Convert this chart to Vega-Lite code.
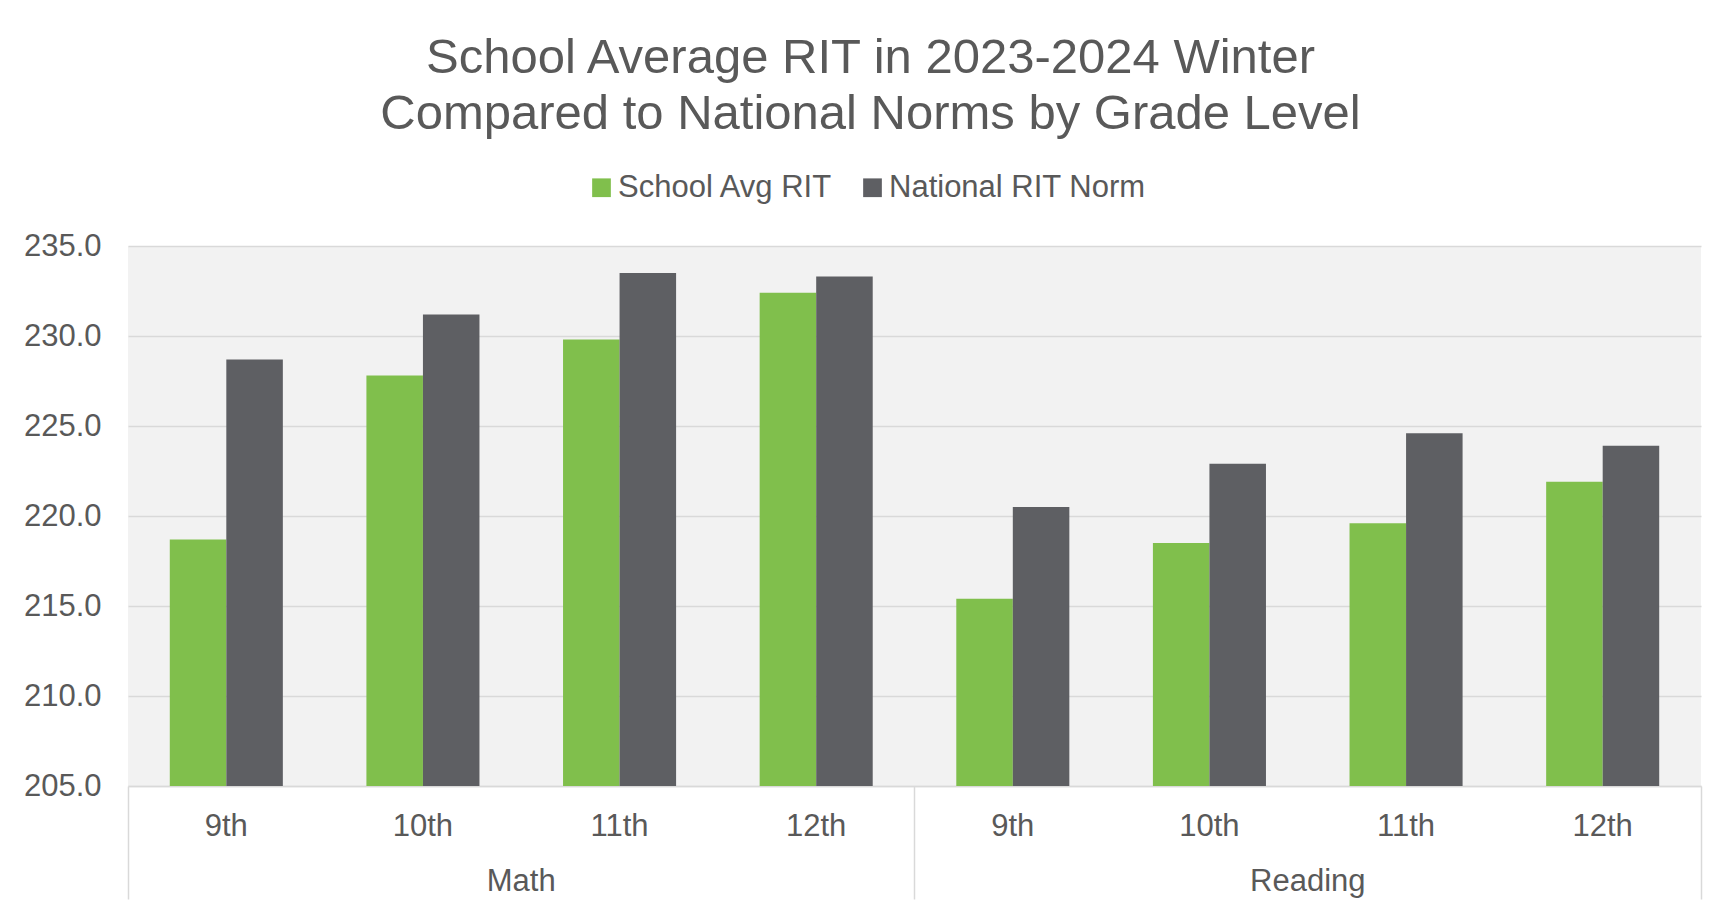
{
  "$schema": "https://vega.github.io/schema/vega-lite/v6.json",
  "width": 1573,
  "height": 540,
  "autosize": {"type": "none"},
  "padding": {"left": 128, "top": 246, "right": 12, "bottom": 123},
  "background": "white",
  "title": {
    "text": ["School Average RIT in 2023-2024 Winter", "Compared to National Norms by Grade Level"],
    "font": "Liberation Sans",
    "fontSize": 49,
    "fontWeight": "normal",
    "color": "#595959",
    "lineHeight": 56,
    "anchor": "middle",
    "frame": "group",
    "dx": -44,
    "offset": 33
  },
  "config": {
    "view": {"stroke": null, "fill": "#f2f2f2"},
    "font": "Liberation Sans"
  },
  "data": {
    "values": [
      {"cat": "Math 9th", "subject": "Math", "series": "School Avg RIT", "value": 218.7},
      {"cat": "Math 9th", "subject": "Math", "series": "National RIT Norm", "value": 228.7},
      {"cat": "Math 10th", "subject": "Math", "series": "School Avg RIT", "value": 227.8},
      {"cat": "Math 10th", "subject": "Math", "series": "National RIT Norm", "value": 231.2},
      {"cat": "Math 11th", "subject": "Math", "series": "School Avg RIT", "value": 229.8},
      {"cat": "Math 11th", "subject": "Math", "series": "National RIT Norm", "value": 233.5},
      {"cat": "Math 12th", "subject": "Math", "series": "School Avg RIT", "value": 232.4},
      {"cat": "Math 12th", "subject": "Math", "series": "National RIT Norm", "value": 233.3},
      {"cat": "Reading 9th", "subject": "Reading", "series": "School Avg RIT", "value": 215.4},
      {"cat": "Reading 9th", "subject": "Reading", "series": "National RIT Norm", "value": 220.5},
      {"cat": "Reading 10th", "subject": "Reading", "series": "School Avg RIT", "value": 218.5},
      {"cat": "Reading 10th", "subject": "Reading", "series": "National RIT Norm", "value": 222.9},
      {"cat": "Reading 11th", "subject": "Reading", "series": "School Avg RIT", "value": 219.6},
      {"cat": "Reading 11th", "subject": "Reading", "series": "National RIT Norm", "value": 224.6},
      {"cat": "Reading 12th", "subject": "Reading", "series": "School Avg RIT", "value": 221.9},
      {"cat": "Reading 12th", "subject": "Reading", "series": "National RIT Norm", "value": 223.9}
    ]
  },
  "layer": [
    {
      "mark": {"type": "bar", "clip": true},
      "encoding": {
        "x": {
          "field": "cat",
          "type": "nominal",
          "sort": ["Math 9th", "Math 10th", "Math 11th", "Math 12th", "Reading 9th", "Reading 10th", "Reading 11th", "Reading 12th"],
          "scale": {"paddingInner": 0.425, "paddingOuter": 0.2125},
          "axis": {
            "orient": "bottom",
            "title": null,
            "labelAngle": 0,
            "labelExpr": "split(datum.value, ' ')[1]",
            "labelFontSize": 31,
            "labelColor": "#595959",
            "labelFont": "Liberation Sans",
            "labelPadding": 25,
            "ticks": false,
            "tickSize": 0,
            "domain": true,
            "domainColor": "#d9d9d9",
            "domainWidth": 1.5,
            "grid": false
          }
        },
        "xOffset": {
          "field": "series",
          "type": "nominal",
          "sort": ["School Avg RIT", "National RIT Norm"],
          "scale": {"paddingInner": 0, "paddingOuter": 0}
        },
        "y": {
          "field": "value",
          "type": "quantitative",
          "scale": {"domain": [205, 235], "zero": false, "nice": false},
          "axis": {
            "title": null,
            "values": [205, 210, 215, 220, 225, 230, 235],
            "format": ".1f",
            "labelFontSize": 31,
            "labelColor": "#595959",
            "labelFont": "Liberation Sans",
            "labelPadding": 27,
            "ticks": false,
            "tickSize": 0,
            "domain": false,
            "grid": true,
            "gridColor": "#d9d9d9",
            "gridWidth": 1.5
          }
        },
        "color": {
          "field": "series",
          "type": "nominal",
          "sort": ["School Avg RIT", "National RIT Norm"],
          "scale": {"domain": ["School Avg RIT", "National RIT Norm"], "range": ["#80bf4c", "#5e5f63"]},
          "legend": {
            "title": null,
            "orient": "none",
            "direction": "horizontal",
            "legendX": 458,
            "legendY": -74,
            "symbolType": "square",
            "symbolSize": 350,
            "symbolStrokeWidth": 0,
            "symbolOpacity": 1,
            "labelFontSize": 31,
            "labelFont": "Liberation Sans",
            "labelColor": "#595959",
            "labelOffset": 1,
            "labelLimit": 500,
            "columnPadding": 24,
            "padding": 0
          }
        }
      }
    },
    {
      "mark": {"type": "bar", "opacity": 0},
      "encoding": {
        "x": {
          "field": "subject",
          "type": "nominal",
          "scale": {"paddingInner": 0, "paddingOuter": 0},
          "axis": {
            "orient": "bottom",
            "title": null,
            "labelAngle": 0,
            "labelFontSize": 31,
            "labelColor": "#595959",
            "labelFont": "Liberation Sans",
            "labelPadding": 80,
            "ticks": false,
            "tickSize": 0,
            "domain": false,
            "grid": false
          }
        }
      }
    },
    {
      "mark": {"type": "bar", "opacity": 0},
      "encoding": {
        "x": {
          "field": "subject",
          "type": "nominal",
          "scale": {"paddingInner": 0, "paddingOuter": 0},
          "axis": {
            "orient": "bottom",
            "title": null,
            "labels": false,
            "ticks": true,
            "tickSize": 113,
            "tickColor": "#d9d9d9",
            "tickWidth": 1.5,
            "bandPosition": 1,
            "tickExtra": true,
            "domain": false,
            "grid": false
          }
        }
      }
    }
  ],
  "resolve": {"scale": {"x": "independent"}}
}
